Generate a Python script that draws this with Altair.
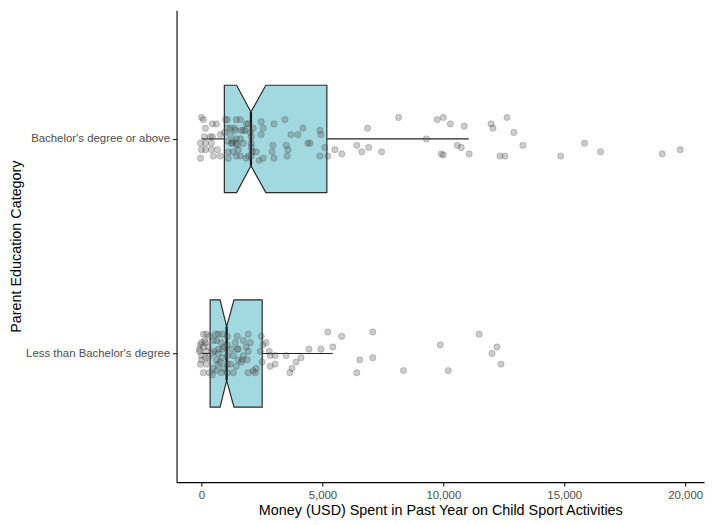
import altair as alt
import pandas as pd

# ---------------- data ----------------
groups = ["Less than Bachelor's degree", "Bachelor's degree or above"]
group_pos = [1, 2]

# box statistics (USD)
whisker_lo = [0, 0]
q1 = [358, 946]
notch_lo = [770, 1453]
median = [1041, 2045]
notch_hi = [1346, 2662]
q3 = [2510, 5185]
whisker_hi = [5430, 11050]

# jittered observations: Bachelor's degree or above
up_x = [0, 80, 165, 450, 620, 780, 125, 370, 450, -40, 165, 410, 0, 165, 410, 660, -40, 495, 780,
        945, 990, 1070, 1440, 1605, 1850, 1935, 2140, 2470, 2550, 3000, 3455, 3700, 3990, 4200, 4895,
        4940, 1810, 1195, 1360, 1195, 1070, 1315, 1440, 1605, 1275, 1440, 1235, 1480, 1730, 1110, 1315,
        1520, 2060, 2060, 2060, 2100, 2060, 2015, 2265, 2470, 2960, 2920, 3500, 3580, 4400, 4485, 5100,
        1110, 1440, 1605, 1850, 1935, 2385, 2550, 3000, 3540, 4895, 5225, 1730, 1070, 1400, 1645,
        5515, 5800, 6420, 6625, 6915, 6870, 7450, 8150, 9300, 9750, 10000, 10290, 9915, 10000, 10575,
        10740, 10865, 11070, 11975, 12055, 12345, 12550, 12635, 12920, 13290, 14855, 15840, 16500,
        19050, 19795]
up_j = [0.10, 0.09, 0.05, 0.07, 0.07, 0.02, 0.01, 0.01, 0.01, -0.02, -0.02, -0.02, -0.05, -0.05, -0.05,
        -0.05, -0.09, -0.08, -0.08, 0.03, 0.09, 0.09, 0.09, 0.09, 0.07, 0.07, 0.05, 0.08, 0.05, 0.07,
        0.09, 0.02, 0.02, 0.05, 0.04, 0.02, 0.04, 0.05, 0.05, 0.02, -0.01, -0.01, 0.00, 0.00, -0.02,
        -0.02, -0.02, -0.03, -0.02, -0.06, -0.06, -0.05, 0.01, -0.02, -0.04, -0.06, -0.08, 0.03, -0.06,
        0.02, -0.03, -0.06, -0.03, -0.05, -0.02, -0.02, -0.04, -0.09, -0.08, -0.08, -0.09, -0.08, -0.10,
        -0.09, -0.09, -0.08, -0.08, -0.08, 0.04, 0.05, 0.04, 0.04,
        -0.05, -0.07, -0.03, -0.06, -0.04, 0.05, -0.06, 0.10, 0.00, 0.09, 0.10, 0.07, -0.07, -0.075,
        -0.03, -0.04, 0.06, -0.07, 0.07, 0.05, -0.08, -0.08, 0.10, 0.03, -0.03, -0.08, -0.02, -0.06,
        -0.07, -0.05]

# jittered observations: Less than Bachelor's degree
lo_x = [80, 205, 330, -40, 165, 290, -80, 0, 205, 0, 290, 80, 330, 0, 125, -40, 205, 165, -80, 80,
        575, 700, 865, 620, 825, 535, 700, 865, 620, 865, 700, 620, 905, 450, 825, 495, 700, 945, 450,
        780, 495, 1070, 1070, 1070, 1070, 1070, 1480, 1935, 1400, 1730, 2015, 1520, 1850, 1315, 1730,
        1935, 1520, 1890, 1235, 1480, 1690, 1195, 1440, 1645, 1315, 1935, 2140, 2265, 2220, 2470, 2550,
        2430,
        2675, 2800, 2840, 3045, 2510, 2840, 3045, 3500, 3910, 4115, 3660, 3745, 4445, 4940, 5225, 5430,
        5800, 7080, 6545, 7080, 6420, 8355, 9875, 10205, 11480, 12220, 12015, 12385]
lo_j = [0.09, 0.09, 0.08, 0.04, 0.05, 0.03, 0.02, -0.01, 0.01, -0.03, -0.02, -0.09, -0.09, 0.05, 0.06,
        -0.05, -0.05, -0.02, 0.01, 0.03,
        0.09, 0.09, 0.09, 0.06, 0.05, 0.01, 0.00, 0.02, -0.03, -0.02, -0.05, -0.08, -0.07, -0.10, -0.09,
        0.06, 0.02, 0.03, 0.00, -0.04, -0.07, 0.08, 0.04, -0.01, -0.05, -0.09, 0.08, 0.09, 0.05, 0.06,
        0.05, 0.02, 0.03, -0.01, -0.01, 0.01, -0.03, -0.03, 0.02, 0.02, -0.03, -0.05, -0.06, -0.04,
        -0.09, -0.09, -0.08, -0.07, -0.09, 0.08, 0.04, 0.01,
        0.05, 0.01, -0.01, -0.01, -0.04, -0.06, -0.05, -0.01, -0.04, -0.02, -0.09, -0.07, 0.02, 0.02,
        0.10, 0.03, 0.08, 0.10, -0.03, -0.02, -0.09, -0.08, 0.04, -0.08, 0.09, 0.03, 0.00, -0.05]

x_ticks = [0, 5000, 10000, 15000, 20000]
x_domain = [-1030, 20780]
y_domain = [0.4, 2.6]
box_half = 0.25
notch_frac = 0.5

# ---------------- tables ----------------
pos = dict(zip(groups, group_pos))

pts = pd.DataFrame(
    [{"group": groups[1], "money": x, "y": pos[groups[1]] + j} for x, j in zip(up_x, up_j)]
    + [{"group": groups[0], "money": x, "y": pos[groups[0]] + j} for x, j in zip(lo_x, lo_j)]
)

box_rows = []
for g, a, b, c, d, e in zip(groups, q1, notch_lo, median, notch_hi, q3):
    p = pos[g]
    for xv, f in [(a, 1), (b, 1), (c, notch_frac), (d, 1), (e, 1)]:
        box_rows.append({"group": g, "x": xv, "ylo": p - box_half * f, "yhi": p + box_half * f})
box_df = pd.DataFrame(box_rows)

wh_rows = []
for g, wl, a, e, wh in zip(groups, whisker_lo, q1, q3, whisker_hi):
    wh_rows.append({"group": g, "x": wl, "x2": a, "y": pos[g]})
    wh_rows.append({"group": g, "x": e, "x2": wh, "y": pos[g]})
wh_df = pd.DataFrame(wh_rows)

med_df = pd.DataFrame([
    {"group": g, "x": m, "ylo": pos[g] - box_half * notch_frac, "yhi": pos[g] + box_half * notch_frac}
    for g, m in zip(groups, median)
])

label_expr = " : ".join(
    f'datum.value == {p} ? "{g}"' for g, p in zip(groups[:-1], group_pos[:-1])
) + f' : "{groups[-1]}"'

xscale = alt.Scale(domain=x_domain, nice=False, zero=False)
yscale = alt.Scale(domain=y_domain, nice=False, zero=False)

x_axis = alt.Axis(values=x_ticks, labelExpr="format(datum.value, ',')",
                  title="Money (USD) Spent in Past Year on Child Sport Activities", titlePadding=3)
y_axis = alt.Axis(values=group_pos, labelExpr=label_expr, title="Parent Education Category",
                  titleX=-154, titleY=238)

whiskers = alt.Chart(wh_df).mark_rule(color="#222222", strokeWidth=1.1).encode(
    x=alt.X("x:Q", scale=xscale, axis=x_axis),
    x2="x2:Q",
    y=alt.Y("y:Q", scale=yscale, axis=y_axis),
)

boxes = alt.Chart(box_df).mark_area(
    orient="vertical", fill="#a2d9e0", stroke="#2b2b2b", strokeWidth=1.2, opacity=1
).encode(
    x=alt.X("x:Q", scale=xscale, axis=x_axis),
    y=alt.Y("ylo:Q", scale=yscale, axis=y_axis),
    y2="yhi:Q",
    detail="group:N",
)

medians = alt.Chart(med_df).mark_rule(color="#1a1a1a", strokeWidth=2.3).encode(
    x=alt.X("x:Q", scale=xscale, axis=x_axis),
    y=alt.Y("ylo:Q", scale=yscale, axis=y_axis),
    y2="yhi:Q",
)

points = alt.Chart(pts).mark_point(
    filled=True, shape="circle", size=40, fill="#555555", fillOpacity=0.3,
    stroke="#222222", strokeOpacity=0.3, strokeWidth=0.7
).encode(
    x=alt.X("money:Q", scale=xscale, axis=x_axis),
    y=alt.Y("y:Q", scale=yscale, axis=y_axis),
)

chart = (
    alt.layer(whiskers, boxes, medians, points)
    .properties(
        width=532, height=476,
        padding={"left": 170, "top": 0, "right": 4, "bottom": 40},
        autosize=alt.AutoSizeParams(type="none"),
    )
    .configure_view(stroke=None)
    .configure_axis(
        grid=False, domainColor="#000000", domainWidth=1.1, tickColor="#000000", tickSize=4,
        labelColor="#4d4d4d", labelFont="Liberation Sans", labelFontSize=11.5, labelPadding=3,
        titleFont="Liberation Sans", titleFontSize=14.5, titleFontWeight="normal", titleColor="#000000",
    )
)

chart.save("out.html", embed_options={"renderer": "svg", "actions": False})
